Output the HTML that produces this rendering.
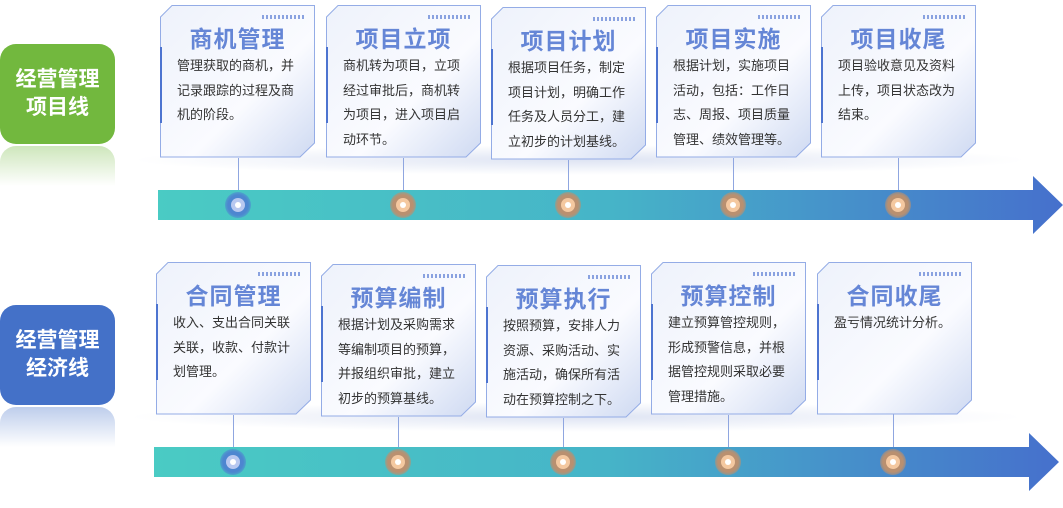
<!DOCTYPE html>
<html><head><meta charset="utf-8"><style>
body{margin:0;width:1063px;height:508px;position:relative;overflow:hidden;background:#fff;font-family:"Liberation Sans","Noto Sans CJK SC",sans-serif}
.a{position:absolute}
.badge{position:absolute;left:0;width:115px;height:100px;border-radius:16px;color:#fff;font-weight:bold;font-size:21px;line-height:28px;text-align:center;display:flex;align-items:center;justify-content:center}
.refl{position:absolute;left:0;width:115px;height:40px;border-radius:16px 16px 0 0;opacity:.35}
.card{position:absolute;width:155px;height:152px}
.card svg{position:absolute;left:0;top:0}
.t{position:absolute;left:0;width:155px;top:15px;text-align:center;font-size:23px;font-weight:bold;color:#6586d6;letter-spacing:1px}
.b{position:absolute;left:17px;width:119px;top:49px;font-size:13px;line-height:24.5px;color:#333}
.stem{position:absolute;width:1px;background:#8fa6e0}
.dot{position:absolute;width:26px;height:26px;border-radius:50%}
.dot i{position:absolute;left:6px;top:6px;width:14px;height:14px;border-radius:50%;border:0}
.dot b{position:absolute;left:10px;top:10px;width:6px;height:6px;border-radius:50%;background:#fff}
.sh{position:absolute;height:30px;border-radius:50%;background:radial-gradient(ellipse at center,rgba(200,210,235,.6),rgba(255,255,255,0) 70%)}
</style></head><body>
<svg class="a" style="left:0;top:0" width="1063" height="508">
<defs>
<linearGradient id="bar" x1="0" x2="1" y1="0" y2="0"><stop offset="0" stop-color="#4acbc4"/><stop offset=".5" stop-color="#46b4c8"/><stop offset="1" stop-color="#4670cc"/></linearGradient>
</defs>
<polygon points="158,190 1033,190 1033,176 1063,205 1033,234 1033,220 158,220" fill="url(#bar)"/>
<polygon points="154,447 1029,447 1029,433 1059,462 1029,491 1029,477 154,477" fill="url(#bar)"/>
</svg>
<div class="badge" style="top:44px;background:#72b83e">经营管理<br>项目线</div>
<div class="refl" style="top:146px;background:linear-gradient(#72b83e,rgba(255,255,255,0))"></div>
<div class="badge" style="top:305px;background:#4471c8">经营管理<br>经济线</div>
<div class="refl" style="top:407px;background:linear-gradient(#4471c8,rgba(255,255,255,0))"></div>

<div class="sh" style="left:130px;top:145px;width:900px"></div>
<div class="sh" style="left:126px;top:402px;width:900px"></div>

<div class="stem" style="left:238px;top:158px;height:32px"></div>
<div class="stem" style="left:403px;top:158px;height:32px"></div>
<div class="stem" style="left:568px;top:160px;height:30px"></div>
<div class="stem" style="left:733px;top:158px;height:32px"></div>
<div class="stem" style="left:898px;top:158px;height:32px"></div>
<div class="stem" style="left:233px;top:415px;height:32px"></div>
<div class="stem" style="left:398px;top:417px;height:30px"></div>
<div class="stem" style="left:563px;top:418px;height:29px"></div>
<div class="stem" style="left:728px;top:415px;height:32px"></div>
<div class="stem" style="left:893px;top:414px;height:33px"></div>

<div class="dot" style="left:225px;top:192px;background:radial-gradient(#4d86d0 55%,rgba(77,134,208,.4) 75%,rgba(77,134,208,0))"><i style="background:#b8c8f0"></i><b></b></div>
<div class="dot" style="left:390px;top:192px;background:radial-gradient(#b99070 55%,rgba(185,144,112,.4) 75%,rgba(185,144,112,0))"><i style="background:#f4c8a0"></i><b></b></div>
<div class="dot" style="left:555px;top:192px;background:radial-gradient(#b99070 55%,rgba(185,144,112,.4) 75%,rgba(185,144,112,0))"><i style="background:#f4c8a0"></i><b></b></div>
<div class="dot" style="left:720px;top:192px;background:radial-gradient(#b99070 55%,rgba(185,144,112,.4) 75%,rgba(185,144,112,0))"><i style="background:#f4c8a0"></i><b></b></div>
<div class="dot" style="left:885px;top:192px;background:radial-gradient(#b99070 55%,rgba(185,144,112,.4) 75%,rgba(185,144,112,0))"><i style="background:#f4c8a0"></i><b></b></div>
<div class="dot" style="left:220px;top:449px;background:radial-gradient(#4d86d0 55%,rgba(77,134,208,.4) 75%,rgba(77,134,208,0))"><i style="background:#b8c8f0"></i><b></b></div>
<div class="dot" style="left:385px;top:449px;background:radial-gradient(#b99070 55%,rgba(185,144,112,.4) 75%,rgba(185,144,112,0))"><i style="background:#f4c8a0"></i><b></b></div>
<div class="dot" style="left:550px;top:449px;background:radial-gradient(#b99070 55%,rgba(185,144,112,.4) 75%,rgba(185,144,112,0))"><i style="background:#f4c8a0"></i><b></b></div>
<div class="dot" style="left:715px;top:449px;background:radial-gradient(#b99070 55%,rgba(185,144,112,.4) 75%,rgba(185,144,112,0))"><i style="background:#f4c8a0"></i><b></b></div>
<div class="dot" style="left:880px;top:449px;background:radial-gradient(#b99070 55%,rgba(185,144,112,.4) 75%,rgba(185,144,112,0))"><i style="background:#f4c8a0"></i><b></b></div>

<svg width="0" height="0" style="position:absolute"><defs>
<linearGradient id="cg" x1="0" y1="0" x2="1" y2="1"><stop offset="0" stop-color="#eef2fb"/><stop offset=".6" stop-color="#fafbff"/><stop offset="1" stop-color="#cfdaf2"/></linearGradient>
<g id="cd"><polygon points="12,0.5 154.5,0.5 154.5,138 140,152 0.5,152 0.5,12" fill="url(#cg)" stroke="#94ace6" stroke-width="1"/>
<rect x="-1" y="42" width="3" height="76" fill="#4d74d0"/>
<g fill="#8aa2e0"><rect x="102" y="10" width="2" height="4"/><rect x="106" y="10" width="2" height="4"/><rect x="110" y="10" width="2" height="4"/><rect x="114" y="10" width="2" height="4"/><rect x="118" y="10" width="2" height="4"/><rect x="122" y="10" width="2" height="4"/><rect x="126" y="10" width="2" height="4"/><rect x="130" y="10" width="2" height="4"/><rect x="134" y="10" width="2" height="4"/><rect x="138" y="10" width="2" height="4"/><rect x="142" y="10" width="2" height="4"/></g></g>
</defs></svg>

<div class="card" style="left:160px;top:5px"><svg width="157" height="154"><use href="#cd"/></svg><div class="t">商机管理</div><div class="b">管理获取的商机，并记录跟踪的过程及商机的阶段。</div></div>
<div class="card" style="left:326px;top:5px"><svg width="157" height="154"><use href="#cd"/></svg><div class="t">项目立项</div><div class="b">商机转为项目，立项经过审批后，商机转为项目，进入项目启动环节。</div></div>
<div class="card" style="left:491px;top:7px"><svg width="157" height="154"><use href="#cd"/></svg><div class="t">项目计划</div><div class="b">根据项目任务，制定项目计划，明确工作任务及人员分工，建立初步的计划基线。</div></div>
<div class="card" style="left:656px;top:5px"><svg width="157" height="154"><use href="#cd"/></svg><div class="t">项目实施</div><div class="b">根据计划，实施项目活动，包括：工作日志、周报、项目质量管理、绩效管理等。</div></div>
<div class="card" style="left:821px;top:5px"><svg width="157" height="154"><use href="#cd"/></svg><div class="t">项目收尾</div><div class="b">项目验收意见及资料上传，项目状态改为结束。</div></div>

<div class="card" style="left:156px;top:262px"><svg width="157" height="154"><use href="#cd"/></svg><div class="t">合同管理</div><div class="b">收入、支出合同关联关联，收款、付款计划管理。</div></div>
<div class="card" style="left:321px;top:264px"><svg width="157" height="154"><use href="#cd"/></svg><div class="t">预算编制</div><div class="b">根据计划及采购需求等编制项目的预算，并报组织审批，建立初步的预算基线。</div></div>
<div class="card" style="left:486px;top:265px"><svg width="157" height="154"><use href="#cd"/></svg><div class="t">预算执行</div><div class="b">按照预算，安排人力资源、采购活动、实施活动，确保所有活动在预算控制之下。</div></div>
<div class="card" style="left:651px;top:262px"><svg width="157" height="154"><use href="#cd"/></svg><div class="t">预算控制</div><div class="b">建立预算管控规则，形成预警信息，并根据管控规则采取必要管理措施。</div></div>
<div class="card" style="left:817px;top:262px"><svg width="157" height="154"><use href="#cd"/></svg><div class="t">合同收尾</div><div class="b">盈亏情况统计分析。</div></div>
</body></html>
